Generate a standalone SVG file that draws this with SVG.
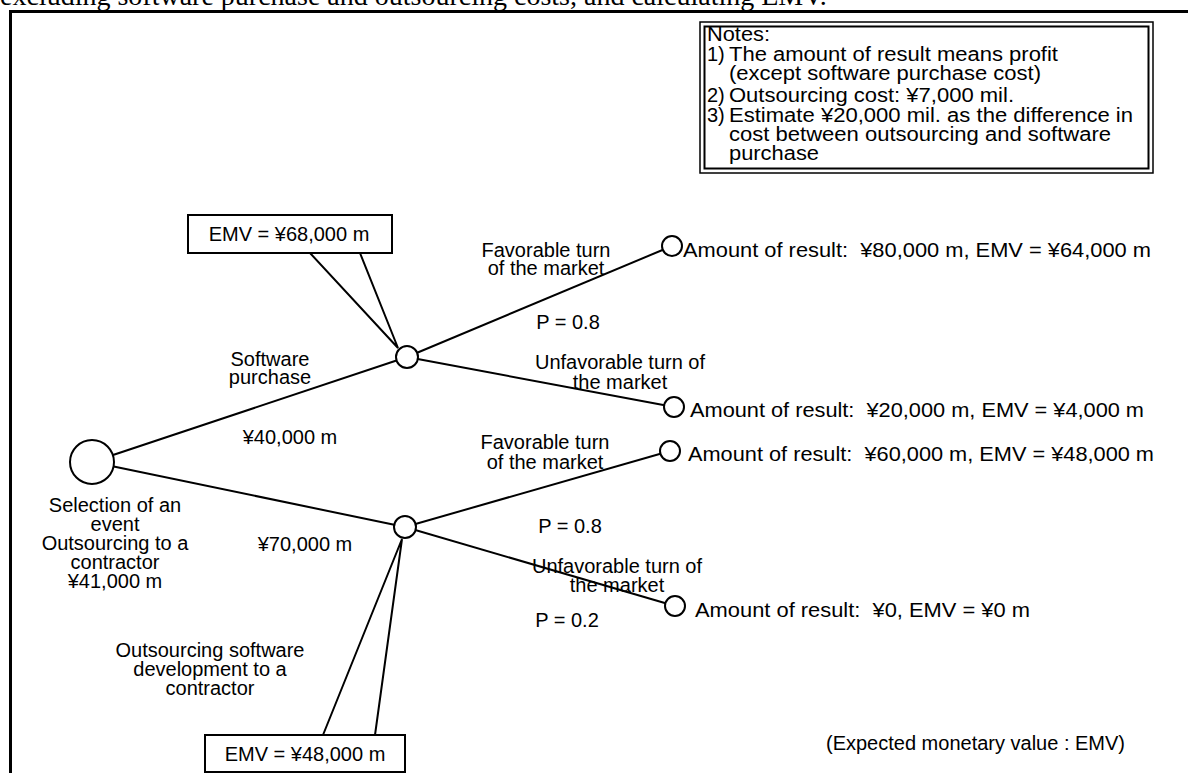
<svg xmlns="http://www.w3.org/2000/svg" width="1188" height="773" viewBox="0 0 1188 773">
<style>
text{font-family:"Liberation Sans",Arial,sans-serif;font-size:20px;fill:#000}
.c{text-anchor:middle}
.ln{stroke:#000;stroke-width:2;fill:none}
.nd{stroke:#000;stroke-width:2;fill:#fff}
.box{stroke:#000;stroke-width:2;fill:#fff}
</style>
<rect x="0" y="0" width="1188" height="773" fill="#fff"/>
<text x="0" y="5" style="font-family:'Liberation Serif','Times New Roman',serif;font-size:28px">excluding software purchase and outsourcing costs, and calculating EMV.</text>
<path d="M10.5,773 V11.5 H1188" stroke="#000" stroke-width="3" fill="none"/>

<g id="notes">
<rect x="700" y="22" width="453" height="151" fill="#fff" stroke="#000" stroke-width="1.5"/>
<rect x="704.5" y="26.5" width="444" height="142" fill="none" stroke="#000" stroke-width="2"/>
<text x="707" y="41" textLength="63" lengthAdjust="spacingAndGlyphs">Notes:</text>
<text x="707" y="61">1)</text><text x="729" y="61" textLength="329" lengthAdjust="spacingAndGlyphs">The amount of result means profit</text>
<text x="729" y="80" textLength="312" lengthAdjust="spacingAndGlyphs">(except software purchase cost)</text>
<text x="707" y="102">2)</text><text x="729" y="102" textLength="285" lengthAdjust="spacingAndGlyphs">Outsourcing cost: ¥7,000 mil.</text>
<text x="707" y="122">3)</text><text x="729" y="122" textLength="404" lengthAdjust="spacingAndGlyphs">Estimate ¥20,000 mil. as the difference in</text>
<text x="729" y="141" textLength="382" lengthAdjust="spacingAndGlyphs">cost between outsourcing and software</text>
<text x="729" y="160" textLength="90" lengthAdjust="spacingAndGlyphs">purchase</text>
</g>

<g id="connectors">
<line class="ln" x1="92" y1="462" x2="407" y2="357"/>
<line class="ln" x1="92" y1="462" x2="405" y2="527"/>
<line class="ln" x1="407" y1="357" x2="672" y2="246"/>
<line class="ln" x1="407" y1="357" x2="674" y2="407"/>
<line class="ln" x1="405" y1="527" x2="670" y2="451"/>
<line class="ln" x1="405" y1="527" x2="675" y2="606"/>
<polyline class="ln" points="310,253 398,348 360,253"/>
<polyline class="ln" points="323,735 402,539 375,735"/>
</g>

<g id="root">
<circle class="nd" cx="92" cy="462" r="22"/>
<text class="c" x="115" y="512">Selection of an</text>
<text class="c" x="115" y="531">event</text>
<text class="c" x="115" y="550">Outsourcing to a</text>
<text class="c" x="115" y="569">contractor</text>
<text class="c" x="115" y="588">¥41,000 m</text>
</g>

<g id="branch-software">
<text class="c" x="270" y="366">Software</text>
<text class="c" x="270" y="384">purchase</text>
<text class="c" x="290" y="444">¥40,000 m</text>
</g>

<g id="branch-outsourcing">
<text class="c" x="305" y="551">¥70,000 m</text>
<text class="c" x="210" y="657">Outsourcing software</text>
<text class="c" x="210" y="676">development to a</text>
<text class="c" x="210" y="695">contractor</text>
</g>

<g id="chance-a">
<circle class="nd" cx="407" cy="357" r="11"/>
</g>
<g id="emv-a">
<rect class="box" x="188" y="215" width="204" height="38"/>
<text class="c" x="289" y="241">EMV = ¥68,000 m</text>
</g>

<g id="chance-b">
<circle class="nd" cx="405" cy="527" r="11"/>
</g>
<g id="emv-b">
<rect class="box" x="205" y="735" width="200" height="37"/>
<text class="c" x="305" y="761">EMV = ¥48,000 m</text>
</g>

<g id="labels-a">
<text class="c" x="546" y="257">Favorable turn</text>
<text class="c" x="546" y="275">of the market</text>
<text class="c" x="568" y="329">P = 0.8</text>
<text class="c" x="620" y="369">Unfavorable turn of</text>
<text class="c" x="620" y="389">the market</text>
</g>

<g id="labels-b">
<text class="c" x="545" y="449">Favorable turn</text>
<text class="c" x="545" y="469">of the market</text>
<text class="c" x="570" y="533">P = 0.8</text>
<text class="c" x="617" y="573">Unfavorable turn of</text>
<text class="c" x="617" y="592">the market</text>
<text class="c" x="567" y="627">P = 0.2</text>
</g>

<g id="leaf-1">
<circle class="nd" cx="672" cy="246" r="10"/>
<text x="683" y="257" xml:space="preserve" textLength="468" lengthAdjust="spacingAndGlyphs">Amount of result:  ¥80,000 m, EMV = ¥64,000 m</text>
</g>
<g id="leaf-2">
<circle class="nd" cx="674" cy="407" r="10"/>
<text x="690" y="417" xml:space="preserve" textLength="454" lengthAdjust="spacingAndGlyphs">Amount of result:  ¥20,000 m, EMV = ¥4,000 m</text>
</g>
<g id="leaf-3">
<circle class="nd" cx="670" cy="451" r="10"/>
<text x="688" y="461" xml:space="preserve" textLength="466" lengthAdjust="spacingAndGlyphs">Amount of result:  ¥60,000 m, EMV = ¥48,000 m</text>
</g>
<g id="leaf-4">
<circle class="nd" cx="675" cy="606" r="10"/>
<text x="695" y="617" xml:space="preserve" textLength="335" lengthAdjust="spacingAndGlyphs">Amount of result:  ¥0, EMV = ¥0 m</text>
</g>

<text x="826" y="750">(Expected monetary value : EMV)</text>
</svg>
